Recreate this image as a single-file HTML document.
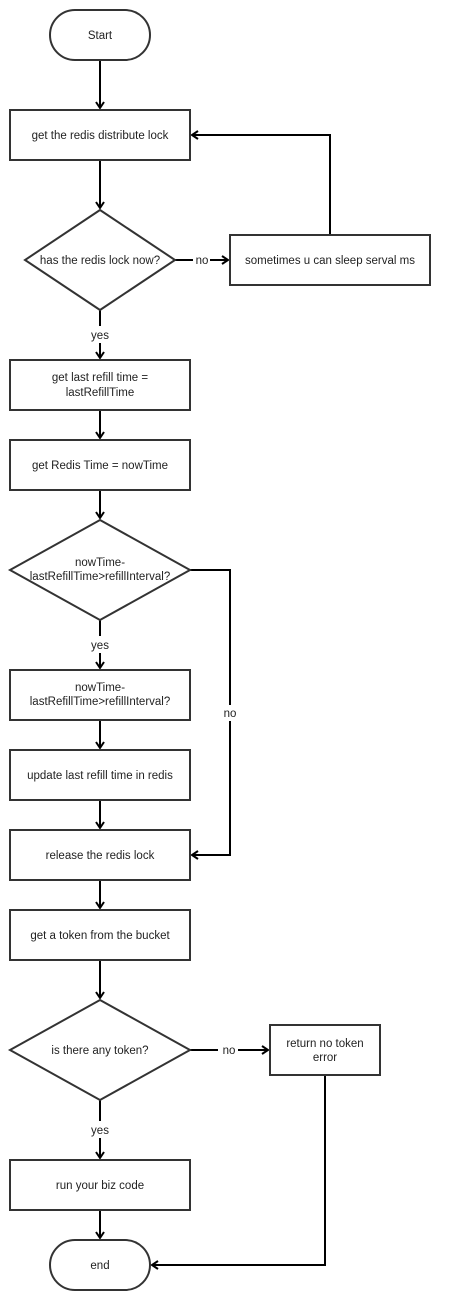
<!DOCTYPE html>
<html><head><meta charset="utf-8"><style>
html,body{margin:0;padding:0;background:#fff;}
svg{display:block;}
text{font-family:"Liberation Sans",Arial,sans-serif;font-size:11.5px;fill:#222;text-anchor:middle;}
.s{fill:#fff;stroke:#333;stroke-width:2;}
.l{fill:none;stroke:#000;stroke-width:2;}
</style></head><body>
<svg width="449" height="1310" viewBox="0 0 449 1310">
<defs><marker id="a" markerWidth="10" markerHeight="10" refX="8" refY="5" orient="auto" markerUnits="userSpaceOnUse"><path d="M2,1 L8,5 L2,9" fill="none" stroke="#000" stroke-width="2"/></marker></defs>
<!-- connectors -->
<path class="l" d="M100,60 V108" marker-end="url(#a)"/>
<path class="l" d="M100,160 V208" marker-end="url(#a)"/>
<path class="l" d="M175,260 H193 M210,260 H228" marker-end="url(#a)"/>
<path class="l" d="M330,235 V135 H192" marker-end="url(#a)"/>
<path class="l" d="M100,310 V326 M100,343 V358" marker-end="url(#a)"/>
<path class="l" d="M100,410 V438" marker-end="url(#a)"/>
<path class="l" d="M100,490 V518" marker-end="url(#a)"/>
<path class="l" d="M100,620 V636 M100,653 V668" marker-end="url(#a)"/>
<path class="l" d="M100,720 V748" marker-end="url(#a)"/>
<path class="l" d="M100,800 V828" marker-end="url(#a)"/>
<path class="l" d="M190,570 H230 V705 M230,721 V855 H192" marker-end="url(#a)"/>
<path class="l" d="M100,880 V908" marker-end="url(#a)"/>
<path class="l" d="M100,960 V998" marker-end="url(#a)"/>
<path class="l" d="M190,1050 H218 M238,1050 H268" marker-end="url(#a)"/>
<path class="l" d="M100,1100 V1121 M100,1138 V1158" marker-end="url(#a)"/>
<path class="l" d="M100,1210 V1238" marker-end="url(#a)"/>
<path class="l" d="M325,1075 V1265 H152" marker-end="url(#a)"/>
<!-- shapes -->
<rect class="s" x="50" y="10" width="100" height="50" rx="25"/>
<text x="100" y="39">Start</text>
<rect class="s" x="10" y="110" width="180" height="50"/>
<text x="100" y="139">get the redis distribute lock</text>
<polygon class="s" points="100,210 175,260 100,310 25,260"/>
<text x="100" y="264">has the redis lock now?</text>
<text x="202" y="264">no</text>
<rect class="s" x="230" y="235" width="200" height="50"/>
<text x="330" y="264">sometimes u can sleep serval ms</text>
<text x="100" y="339">yes</text>
<rect class="s" x="10" y="360" width="180" height="50"/>
<text x="100" y="381">get last refill time =</text>
<text x="100" y="396">lastRefillTime</text>
<rect class="s" x="10" y="440" width="180" height="50"/>
<text x="100" y="469">get Redis Time = nowTime</text>
<polygon class="s" points="100,520 190,570 100,620 10,570"/>
<text x="100" y="566">nowTime-</text>
<text x="100" y="580">lastRefillTime&gt;refillInterval?</text>
<text x="100" y="649">yes</text>
<text x="230" y="717">no</text>
<rect class="s" x="10" y="670" width="180" height="50"/>
<text x="100" y="691">nowTime-</text>
<text x="100" y="705">lastRefillTime&gt;refillInterval?</text>
<rect class="s" x="10" y="750" width="180" height="50"/>
<text x="100" y="779">update last refill time in redis</text>
<rect class="s" x="10" y="830" width="180" height="50"/>
<text x="100" y="859">release the redis lock</text>
<rect class="s" x="10" y="910" width="180" height="50"/>
<text x="100" y="939">get a token from the bucket</text>
<polygon class="s" points="100,1000 190,1050 100,1100 10,1050"/>
<text x="100" y="1054">is there any token?</text>
<text x="229" y="1054">no</text>
<rect class="s" x="270" y="1025" width="110" height="50"/>
<text x="325" y="1047">return no token</text>
<text x="325" y="1061">error</text>
<text x="100" y="1134">yes</text>
<rect class="s" x="10" y="1160" width="180" height="50"/>
<text x="100" y="1189">run your biz code</text>
<rect class="s" x="50" y="1240" width="100" height="50" rx="25"/>
<text x="100" y="1269">end</text>
</svg>
</body></html>
